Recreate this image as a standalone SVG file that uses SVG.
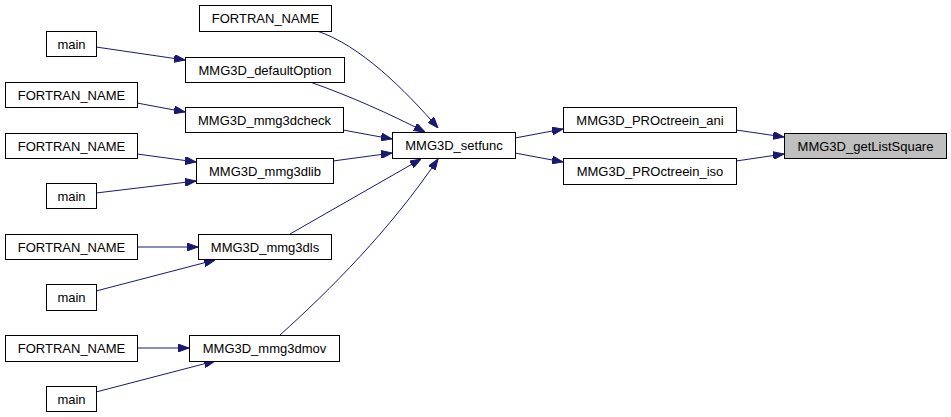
<svg xmlns="http://www.w3.org/2000/svg" width="951" height="417" viewBox="0 0 951 417">
<style>
.n rect{fill:#fff;stroke:#000;stroke-width:1}
.n text{font-family:"Liberation Sans",Arial,sans-serif;font-size:13px;text-anchor:middle;fill:#000}
#edges path{fill:none;stroke:#191970;stroke-width:1;marker-end:url(#ah)}
</style>
<defs>
<marker id="ah" markerUnits="userSpaceOnUse" markerWidth="11" markerHeight="8" refX="11" refY="4" orient="auto">
<path d="M0,0 L11,4 L0,8 z" fill="#191970" stroke="#191970" stroke-width="1"/>
</marker>
</defs>
<rect width="951" height="417" fill="#fff"/>
<g id="edges">
<path d="M317,31 C360,45 405,90 438,128"/>
<path d="M96,47 L185,60"/>
<path d="M310,82 C350,96 390,114 425,132"/>
<path d="M137,103 L185,112"/>
<path d="M343,130 L392,139"/>
<path d="M137,154 L196,162"/>
<path d="M96,193 L196,181"/>
<path d="M333,161 L392,153"/>
<path d="M290,234 L421,159"/>
<path d="M280,335 C330,290 390,230 438,159"/>
<path d="M137,247 L198,247"/>
<path d="M96,291 L215,260"/>
<path d="M137,348 L189,348"/>
<path d="M96,392 L215,361"/>
<path d="M515,138 L563,129"/>
<path d="M515,153 L563,162"/>
<path d="M736,130 L784,137"/>
<path d="M736,161 L784,154"/>
</g>
<g id="n_fortran1" class="n"><rect x="199.5" y="5.5" width="132" height="26"/><text x="265.5" y="23">FORTRAN_NAME</text></g>
<g id="n_main1" class="n"><rect x="46.5" y="31.5" width="50" height="25"/><text x="71.5" y="48.5">main</text></g>
<g id="n_defaultOption" class="n"><rect x="185.5" y="57.5" width="159" height="25"/><text x="265" y="74.5">MMG3D_defaultOption</text></g>
<g id="n_fortran2" class="n"><rect x="5.5" y="82.5" width="132" height="25"/><text x="71.5" y="99.5">FORTRAN_NAME</text></g>
<g id="n_mmg3dcheck" class="n"><rect x="185.5" y="107.5" width="158" height="25"/><text x="264.5" y="124.5">MMG3D_mmg3dcheck</text></g>
<g id="n_fortran3" class="n"><rect x="5.5" y="133.5" width="132" height="25"/><text x="71.5" y="150.5">FORTRAN_NAME</text></g>
<g id="n_mmg3dlib" class="n"><rect x="196.5" y="158.5" width="137" height="25"/><text x="265" y="175.5">MMG3D_mmg3dlib</text></g>
<g id="n_main2" class="n"><rect x="46.5" y="183.5" width="50" height="25"/><text x="71.5" y="200.5">main</text></g>
<g id="n_setfunc" class="n"><rect x="392.5" y="132.5" width="123" height="26"/><text x="454" y="150">MMG3D_setfunc</text></g>
<g id="n_fortran4" class="n"><rect x="5.5" y="234.5" width="132" height="25"/><text x="71.5" y="251.5">FORTRAN_NAME</text></g>
<g id="n_mmg3dls" class="n"><rect x="198.5" y="234.5" width="133" height="25"/><text x="265" y="251.5">MMG3D_mmg3dls</text></g>
<g id="n_main3" class="n"><rect x="46.5" y="284.5" width="50" height="26"/><text x="71.5" y="302">main</text></g>
<g id="n_fortran5" class="n"><rect x="5.5" y="335.5" width="132" height="26"/><text x="71.5" y="353">FORTRAN_NAME</text></g>
<g id="n_mmg3dmov" class="n"><rect x="189.5" y="335.5" width="150" height="26"/><text x="264.5" y="353">MMG3D_mmg3dmov</text></g>
<g id="n_main4" class="n"><rect x="46.5" y="386.5" width="50" height="25"/><text x="71.5" y="403.5">main</text></g>
<g id="n_ani" class="n"><rect x="563.5" y="107.5" width="173" height="25"/><text x="650" y="124.5">MMG3D_PROctreein_ani</text></g>
<g id="n_iso" class="n"><rect x="563.5" y="158.5" width="173" height="26"/><text x="650" y="176">MMG3D_PROctreein_iso</text></g>
<g id="n_getListSquare" class="n"><rect x="784.5" y="133.5" width="162" height="25" style="fill:#bfbfbf"/><text x="865.5" y="150.5">MMG3D_getListSquare</text></g>
</svg>
